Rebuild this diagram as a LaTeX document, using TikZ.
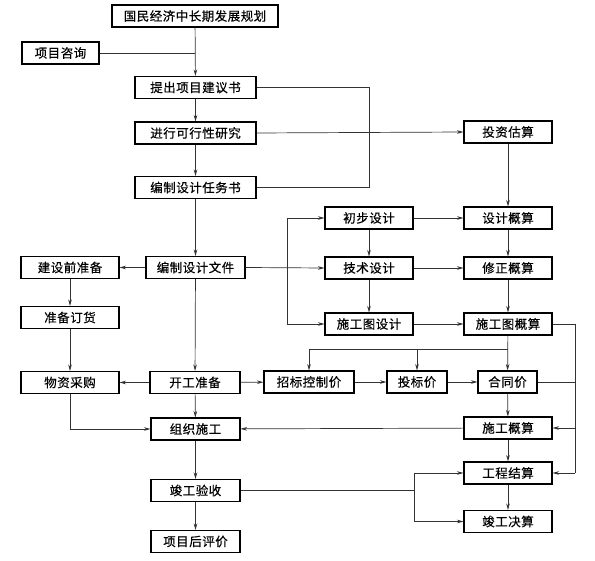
\documentclass[tikz,border=0pt]{standalone}
\usepackage{fontspec}
\newfontfamily\cjk{Noto Sans CJK SC}[FakeBold=0.4,LetterSpace=4]
\usetikzlibrary{arrows.meta,calc}
\begin{document}
\begin{tikzpicture}[x=1pt,y=-1pt,
  box/.style={draw=black,line width=1.1pt,fill=white,rectangle,inner sep=0pt,minimum height=22pt,font=\cjk\fontsize{12.5}{14}\selectfont},
  ln/.style={draw=black!80,line width=0.7pt},
  ar/.style={ln,-{Stealth[length=6.5pt,width=3.6pt]}}]
\useasboundingbox (0,0) rectangle (595,561);
\node[box,minimum width=166pt] (A) at (195,16) {国民经济中长期发展规划};
\node[box,minimum width=77pt] (Z) at (60.5,53) {项目咨询};
\node[box,minimum width=121pt] (B) at (195.5,87.5) {提出项目建议书};
\node[box,minimum width=121pt] (C) at (195.5,133) {进行可行性研究};
\node[box,minimum width=121pt] (D) at (195.5,187.5) {编制设计任务书};
\node[box,minimum width=99pt] (E) at (195.5,267.5) {编制设计文件};
\node[box,minimum width=98pt] (F) at (70,267.5) {建设前准备};
\node[box,minimum width=98pt] (G) at (70,317.5) {准备订货};
\node[box,minimum width=98pt] (H) at (70,382.5) {物资采购};
\node[box,minimum width=90pt] (I) at (195,382.5) {开工准备};
\node[box,minimum width=89pt] (J) at (195.5,429) {组织施工};
\node[box,minimum width=89pt] (K) at (195.5,490.5) {竣工验收};
\node[box,minimum width=89pt] (L) at (195.5,541.5) {项目后评价};
\node[box,minimum width=88pt] (M) at (508,132) {投资估算};
\node[box,minimum width=88pt] (N) at (369,218) {初步设计};
\node[box,minimum width=88pt] (O) at (508,218) {设计概算};
\node[box,minimum width=88pt] (P) at (369,268) {技术设计};
\node[box,minimum width=88pt] (Q) at (508,268) {修正概算};
\node[box,minimum width=88pt] (R) at (369,324) {施工图设计};
\node[box,minimum width=88pt] (S) at (508,324) {施工图概算};
\node[box,minimum width=90pt] (T) at (309,382) {招标控制价};
\node[box,minimum width=60pt] (U) at (417,382) {投标价};
\node[box,minimum width=59pt] (V) at (507.5,382) {合同价};
\node[box,minimum width=88pt] (W) at (508,428) {施工概算};
\node[box,minimum width=88pt] (X) at (508,473) {工程结算};
\node[box,minimum width=88pt] (Y) at (508,521.5) {竣工决算};
% coordinates
\coordinate (zj) at (195,53);
\coordinate (b1) at (369,87.5);
\coordinate (b2) at (369,187.5);
\coordinate (eb1) at (287,218);
\coordinate (eb2) at (287,324);
\coordinate (sd) at (508,349);
\coordinate (sdT) at (309,349);
\coordinate (sdU) at (417,349);
\coordinate (rb1) at (575,324);
\coordinate (rbV) at (575,382);
\coordinate (rbW) at (575,428);
\coordinate (rbX) at (575,473);
\coordinate (hc) at (70,429);
\coordinate (kb) at (414,490.5);
\coordinate (kbX) at (414,473);
\coordinate (kbY) at (414,521.5);
% connectors
\draw[ar] (A) -- (B);
\draw[ln] (Z) -- (zj);
\draw[ar] (B) -- (C);
\draw[ar] (C) -- (D);
\draw[ln] (B.east) -- (b1) -- (b2) -- (D.east);
\draw[ar] (C.east) -- (M.west);
\draw[ar] (M) -- (O);
\draw[ar] (D) -- (E);
\draw[ar] (E) -- (F);
\draw[ar] (E.east) -- (P.west);
\draw[ln] (eb1) -- (eb2);
\draw[ar] (eb1) -- (N.west);
\draw[ar] (eb2) -- (R.west);
\draw[ar] (N) -- (O);
\draw[ar] (P) -- (Q);
\draw[ar] (R) -- (S);
\draw[ar] (N) -- (P);
\draw[ar] (P) -- (R);
\draw[ar] (O) -- (Q);
\draw[ar] (Q) -- (S);
\draw[ar] (S) -- (V);
\draw[ln] (sd) -- (sdT);
\draw[ar] (sdT) -- (T.north);
\draw[ar] (sdU) -- (U.north);
\draw[ln] (S.east) -- (rb1) -- (rbX);
\draw[ln] (V.east) -- (rbV);
\draw[ar] (rbW) -- (W.east);
\draw[ar] (rbX) -- (X.east);
\draw[ar] (T) -- (U);
\draw[ar] (U) -- (V);
\draw[ar] (V) -- (W);
\draw[ar] (W) -- (J);
\draw[ar] (W) -- (X);
\draw[ar] (X) -- (Y);
\draw[ar] (E) -- (I);
\draw[ar] (I) -- (H);
\draw[ar] (I) -- (T);
\draw[ar] (F) -- (G);
\draw[ar] (G) -- (H);
\draw[ln] (H.south) -- (hc);
\draw[ar] (hc) -- (J.west);
\draw[ar] (I) -- (J);
\draw[ar] (J) -- (K);
\draw[ar] (K) -- (L);
\draw[ln] (K.east) -- (kb);
\draw[ln] (kbX) -- (kbY);
\draw[ar] (kbX) -- (X.west);
\draw[ar] (kbY) -- (Y.west);
\end{tikzpicture}
\end{document}
